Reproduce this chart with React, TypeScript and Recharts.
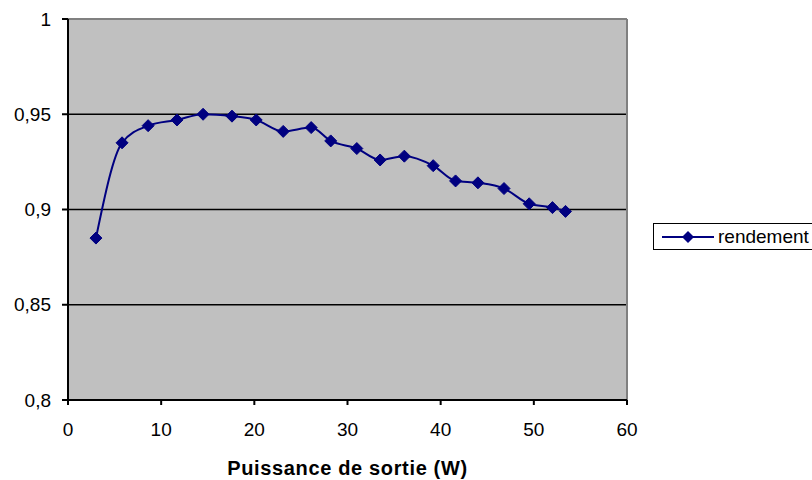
import React from 'react';
import {
  LineChart,
  Line,
  XAxis,
  YAxis,
  CartesianGrid,
  ReferenceLine,
  Label,
} from 'recharts';

const puissance = [3.0, 5.8, 8.6, 11.7, 14.5, 17.6, 20.2, 23.1, 26.1, 28.2, 31.0, 33.5, 36.1, 39.2, 41.6, 44.0, 46.8, 49.5, 52.0, 53.4];
const rendement = [0.885, 0.935, 0.944, 0.947, 0.95, 0.949, 0.947, 0.941, 0.943, 0.936, 0.932, 0.926, 0.928, 0.923, 0.915, 0.914, 0.911, 0.903, 0.901, 0.899];
const xTicks = [0, 10, 20, 30, 40, 50, 60];
const yTicks = [0.8, 0.85, 0.9, 0.95, 1];

const data = puissance.map((p, i) => ({ p, rendement: rendement[i] }));

const FONT = '"Liberation Sans", Arial, sans-serif';
const NAVY = '#000080';

const Diamond = (props: any) => {
  const { cx, cy } = props;
  if (cx == null || cy == null) return null;
  const r = 6;
  return (
    <path
      d={`M${cx},${cy - r}L${cx + r},${cy}L${cx},${cy + r}L${cx - r},${cy}Z`}
      fill={NAVY}
      stroke={NAVY}
    />
  );
};

// legend box sits against the right edge like in the original
const LegendBox = () => (
  <div
    style={{
      position: 'absolute',
      left: 653,
      top: 223,
      width: 200,
      height: 27,
      border: '1.5px solid #000',
      background: '#fff',
      display: 'flex',
      alignItems: 'center',
      fontFamily: FONT,
      fontSize: 19,
      boxSizing: 'border-box',
    }}
  >
    <svg width={52} height={14} style={{ marginLeft: 8, flex: 'none' }}>
      <line x1={0} y1={7} x2={52} y2={7} stroke={NAVY} strokeWidth={2} />
      <path d="M26,1L32,7L26,13L20,7Z" fill={NAVY} />
    </svg>
    <span style={{ marginLeft: 4, whiteSpace: 'nowrap' }}>rendement</span>
  </div>
);

export default function App() {
  return (
    <div style={{ position: 'absolute', left: 0, top: 0, width: 812, height: 480, background: '#fff', overflow: 'hidden' }}>
      <LineChart
        width={812}
        height={480}
        data={data}
        margin={{ top: 19, right: 185, left: 8, bottom: 0 }}
        style={{ fontFamily: FONT }}
      >
        <CartesianGrid fill="#C0C0C0" fillOpacity={1} vertical={false} stroke="#000" strokeWidth={1.5} />
        <ReferenceLine y={1} stroke="#808080" strokeWidth={2} />
        <ReferenceLine x={60} stroke="#808080" strokeWidth={2} />
        <XAxis
          dataKey="p"
          type="number"
          domain={[0, 60]}
          ticks={xTicks}
          height={80}
          stroke="#000"
          strokeWidth={2}
          tickSize={5}
          tickMargin={18}
          tick={{ fill: '#000', fontSize: 19 }}
        >
          <Label
            value="Puissance de sortie (W)"
            position="insideBottom"
            offset={5}
            style={{ fontWeight: 'bold', fontSize: 20, fill: '#000', letterSpacing: 0.65 }}
          />
        </XAxis>
        <YAxis
          type="number"
          domain={[0.8, 1]}
          ticks={yTicks}
          width={60}
          stroke="#000"
          strokeWidth={2}
          tickSize={6}
          tickMargin={11}
          tick={{ fill: '#000', fontSize: 19 }}
          tickFormatter={(v: number) => String(v).replace('.', ',')}
        />
        <Line
          type="monotone"
          dataKey="rendement"
          stroke={NAVY}
          strokeWidth={2}
          dot={<Diamond />}
          isAnimationActive={false}
        />
      </LineChart>
      <LegendBox />
    </div>
  );
}
